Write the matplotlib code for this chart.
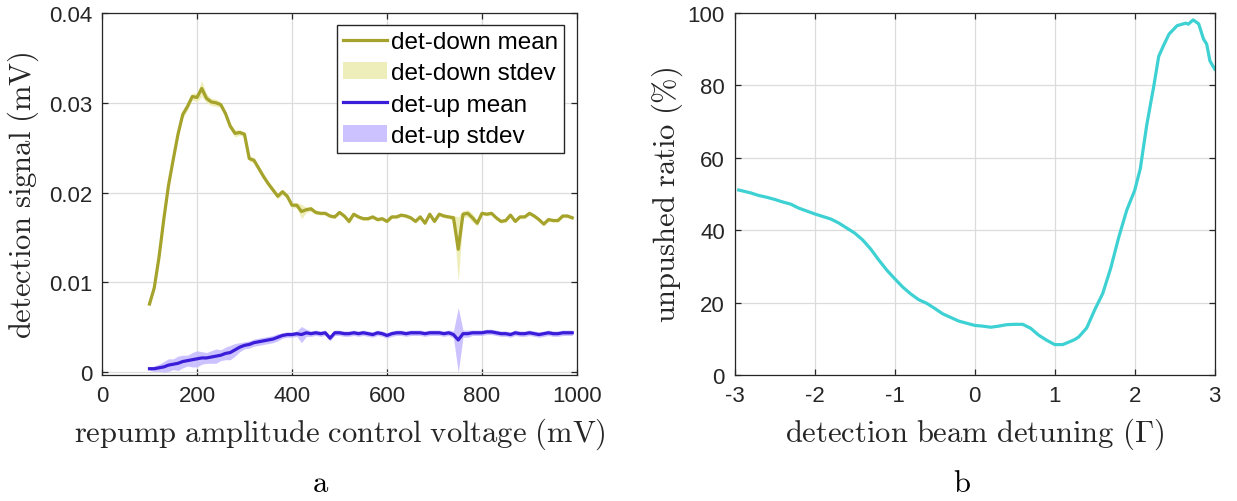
import numpy as np
import matplotlib
matplotlib.use("Agg")
import matplotlib.pyplot as plt

plt.rcParams['mathtext.fontset'] = 'cm'
plt.rcParams['font.family'] = ['Liberation Sans', 'DejaVu Sans']

# ---------------- data: panel a ----------------
voltage = list(range(100, 1000, 10))
down_mean = [0.0076, 0.0094, 0.0128, 0.0170, 0.0208, 0.0237, 0.0265, 0.0287, 0.0296, 0.0307,
             0.0306, 0.0316, 0.0305, 0.0301, 0.0300, 0.0298, 0.0288, 0.0274, 0.0266, 0.0267,
             0.0265, 0.0238, 0.0236, 0.0227, 0.0218, 0.0210, 0.0203, 0.0196, 0.0201, 0.0196,
             0.0186, 0.0186, 0.0179, 0.0181, 0.0182, 0.0178, 0.0177, 0.0177, 0.0174, 0.0173,
             0.0178, 0.0174, 0.0168, 0.0176, 0.0173, 0.0171, 0.0171, 0.0173, 0.0170, 0.0171,
             0.0168, 0.0173, 0.0173, 0.0175, 0.0174, 0.0172, 0.0168, 0.0173, 0.0166, 0.0176,
             0.0168, 0.0176, 0.0174, 0.0173, 0.0172, 0.0137, 0.0176, 0.0177, 0.0172, 0.0166,
             0.0177, 0.0176, 0.0177, 0.0172, 0.0168, 0.0169, 0.0175, 0.0168, 0.0173, 0.0173,
             0.0177, 0.0174, 0.0170, 0.0165, 0.0170, 0.0169, 0.0169, 0.0174, 0.0174, 0.0172]
down_std = [0.0002, 0.0002, 0.0002, 0.0002, 0.0002, 0.0002, 0.0003, 0.0004, 0.0004, 0.0004,
            0.0005, 0.0009, 0.0005, 0.0004, 0.0004, 0.0003, 0.0003, 0.0003, 0.0004, 0.0003,
            0.0003, 0.0003, 0.0003, 0.0003, 0.0003, 0.0003, 0.0003, 0.0003, 0.0003, 0.0003,
            0.0003, 0.0003, 0.0008, 0.0003, 0.0003, 0.0002, 0.0002, 0.0002, 0.0002, 0.0002,
            0.0002, 0.0002, 0.0003, 0.0002, 0.0002, 0.0002, 0.0002, 0.0002, 0.0002, 0.0002,
            0.0002, 0.0002, 0.0002, 0.0002, 0.0002, 0.0002, 0.0002, 0.0002, 0.0002, 0.0002,
            0.0002, 0.0002, 0.0002, 0.0002, 0.0003, 0.0036, 0.0004, 0.0004, 0.0005, 0.0003,
            0.0002, 0.0002, 0.0002, 0.0002, 0.0002, 0.0002, 0.0002, 0.0002, 0.0002, 0.0002,
            0.0002, 0.0002, 0.0002, 0.0002, 0.0002, 0.0002, 0.0002, 0.0002, 0.0002, 0.0002]
up_mean = [0.0004, 0.0004, 0.0005, 0.0006, 0.0008, 0.0009, 0.0010, 0.0012, 0.0013, 0.0014,
           0.0015, 0.0016, 0.0016, 0.0017, 0.0018, 0.0019, 0.0021, 0.0022, 0.0025, 0.0028,
           0.0030, 0.0031, 0.0033, 0.0034, 0.0035, 0.0036, 0.0037, 0.0039, 0.0041, 0.0042,
           0.0042, 0.0043, 0.0042, 0.0044, 0.0043, 0.0044, 0.0043, 0.0044, 0.0038, 0.0044,
           0.0044, 0.0043, 0.0043, 0.0044, 0.0043, 0.0044, 0.0043, 0.0042, 0.0044, 0.0043,
           0.0041, 0.0043, 0.0044, 0.0044, 0.0043, 0.0044, 0.0044, 0.0044, 0.0043, 0.0044,
           0.0044, 0.0044, 0.0043, 0.0044, 0.0042, 0.0036, 0.0043, 0.0043, 0.0044, 0.0044,
           0.0044, 0.0045, 0.0045, 0.0044, 0.0043, 0.0043, 0.0042, 0.0044, 0.0043, 0.0043,
           0.0044, 0.0043, 0.0042, 0.0043, 0.0044, 0.0043, 0.0043, 0.0044, 0.0044, 0.0044]
up_std = [0.0002, 0.0003, 0.0004, 0.0006, 0.0007, 0.0006, 0.0008, 0.0007, 0.0006, 0.0008,
          0.0009, 0.0007, 0.0006, 0.0007, 0.0008, 0.0006, 0.0007, 0.0008, 0.0007, 0.0005,
          0.0004, 0.0004, 0.0004, 0.0004, 0.0004, 0.0004, 0.0004, 0.0004, 0.0003, 0.0003,
          0.0003, 0.0003, 0.0009, 0.0004, 0.0003, 0.0003, 0.0003, 0.0003, 0.0003, 0.0003,
          0.0003, 0.0003, 0.0003, 0.0003, 0.0003, 0.0003, 0.0003, 0.0003, 0.0003, 0.0003,
          0.0003, 0.0003, 0.0003, 0.0003, 0.0003, 0.0003, 0.0003, 0.0003, 0.0003, 0.0003,
          0.0003, 0.0003, 0.0003, 0.0003, 0.0004, 0.0036, 0.0004, 0.0004, 0.0003, 0.0003,
          0.0003, 0.0003, 0.0003, 0.0003, 0.0003, 0.0003, 0.0003, 0.0003, 0.0003, 0.0003,
          0.0003, 0.0003, 0.0003, 0.0003, 0.0003, 0.0003, 0.0003, 0.0003, 0.0003, 0.0003]

# ---------------- data: panel b ----------------
detuning = [-2.95, -2.8, -2.7, -2.6, -2.5, -2.4, -2.3, -2.2, -2.1, -2.0,
            -1.9, -1.8, -1.7, -1.6, -1.5, -1.4, -1.3, -1.2, -1.1, -1.0,
            -0.9, -0.8, -0.7, -0.6, -0.5, -0.4, -0.3, -0.2, -0.1, 0.0,
            0.1, 0.2, 0.3, 0.4, 0.5, 0.6, 0.7, 0.8, 0.9, 1.0,
            1.1, 1.2, 1.25, 1.3, 1.4, 1.5, 1.6, 1.7, 1.8, 1.9,
            2.0, 2.07, 2.15, 2.24, 2.3, 2.36, 2.43, 2.53, 2.64, 2.67,
            2.73, 2.8, 2.86, 2.9, 2.94, 3.0]
unpushed = [51.1, 50.3, 49.6, 49.1, 48.5, 47.8, 47.2, 46.1, 45.3, 44.5,
            43.8, 43.1, 42.0, 40.6, 39.2, 37.3, 34.8, 31.8, 29.0, 26.6,
            24.3, 22.4, 20.8, 19.8, 18.4, 16.9, 15.9, 14.9, 14.3, 13.7,
            13.5, 13.2, 13.5, 13.9, 14.0, 14.0, 12.9, 11.0, 9.6, 8.4,
            8.4, 9.3, 9.8, 10.5, 13.0, 18.0, 22.5, 29.5, 38.0, 45.5,
            51.0, 57.0, 69.0, 80.0, 88.0, 91.0, 94.2, 96.5, 97.2, 96.9,
            98.1, 97.0, 92.8, 91.4, 86.8, 84.5]

xticks_a = [0, 200, 400, 600, 800, 1000]
yticks_a = [0, 0.01, 0.02, 0.03, 0.04]
xticks_b = [-3, -2, -1, 0, 1, 2, 3]
yticks_b = [0, 20, 40, 60, 80, 100]

# ---------------- figure ----------------
W, H = 1237, 502
fig = plt.figure(figsize=(W / 100, H / 100), dpi=100)

def fbox(l, t, r, b):
    return [l / W, 1 - b / H, (r - l) / W, (b - t) / H]

axa = fig.add_axes(fbox(102, 14, 577, 376))
axb = fig.add_axes(fbox(734.7, 14, 1214.7, 376))

c_down = '#A5A32B'
c_down_band = '#ECEBAE'
c_up = '#3A1DD8'
c_up_band = '#C4B8FF'
c_cyan = '#3ED1D3'
dark = '#262626'

v = np.array(voltage)
dm, ds = np.array(down_mean), np.array(down_std)
um, us = np.array(up_mean), np.array(up_std)

l1, = axa.plot(v, dm, color=c_down, lw=2.3, zorder=3, label='det-down mean')
f1 = axa.fill_between(v, dm - ds, dm + ds, color=c_down_band, alpha=0.85, lw=0,
                      zorder=2, label='det-down stdev')
l2, = axa.plot(v, um, color=c_up, lw=2.3, zorder=3, label='det-up mean')
f2 = axa.fill_between(v, um - us, um + us, color=c_up_band, alpha=0.85, lw=0,
                      zorder=2, label='det-up stdev')

axa.set_xlim(0, 1000)
axa.set_ylim(-0.0003, 0.04)
axa.set_xticks(xticks_a)
axa.set_yticks(yticks_a)
axa.set_yticklabels(['0', '0.01', '0.02', '0.03', '0.04'])

axb.plot(detuning, unpushed, color=c_cyan, lw=2.3)
axb.set_xlim(-3, 3)
axb.set_ylim(0, 100)
axb.set_xticks(xticks_b)
axb.set_xticklabels(['-3', '-2', '-1', '0', '1', '2', '3'])
axb.set_yticks(yticks_b)

for ax in (axa, axb):
    ax.grid(True, color='#DCDCDC', lw=0.9)
    ax.set_axisbelow(True)
    ax.tick_params(direction='in', length=4, width=0.9, colors=dark,
                   labelsize=16, top=True, right=True, pad=7)
    for s in ax.spines.values():
        s.set_color(dark)
        s.set_linewidth(0.9)

lab_kw = dict(fontsize=22, color=dark)
axa.set_xlabel(r'$\mathrm{repump\ amplitude\ control\ voltage\ (mV)}$', labelpad=7, **lab_kw)
axa.set_ylabel(r'$\mathrm{detection\ signal\ (mV)}$', labelpad=6, **lab_kw)
axb.set_xlabel(r'$\mathrm{detection\ beam\ detuning\ (\Gamma)}$', labelpad=7, **lab_kw)
axb.set_ylabel(r'$\mathrm{unpushed\ ratio\ (\%)}$', labelpad=2, **lab_kw)

leg = axa.legend(handles=[l1, f1, l2, f2], loc='upper right',
                 bbox_to_anchor=(564 / W, 1 - 26 / H), bbox_transform=fig.transFigure,
                 borderaxespad=0, fancybox=False, framealpha=1, edgecolor=dark,
                 fontsize=17.5, handlelength=1.8, handletextpad=0.15,
                 labelspacing=0.38, borderpad=0.25)
leg.get_frame().set_linewidth(1.0)

fig.text(321 / W, 1 - 484 / H, r'$\mathrm{a}$', ha='center', va='center', fontsize=22, color='black')
fig.text(962 / W, 1 - 484 / H, r'$\mathrm{b}$', ha='center', va='center', fontsize=22, color='black')

fig.savefig('out.png', dpi=100)
